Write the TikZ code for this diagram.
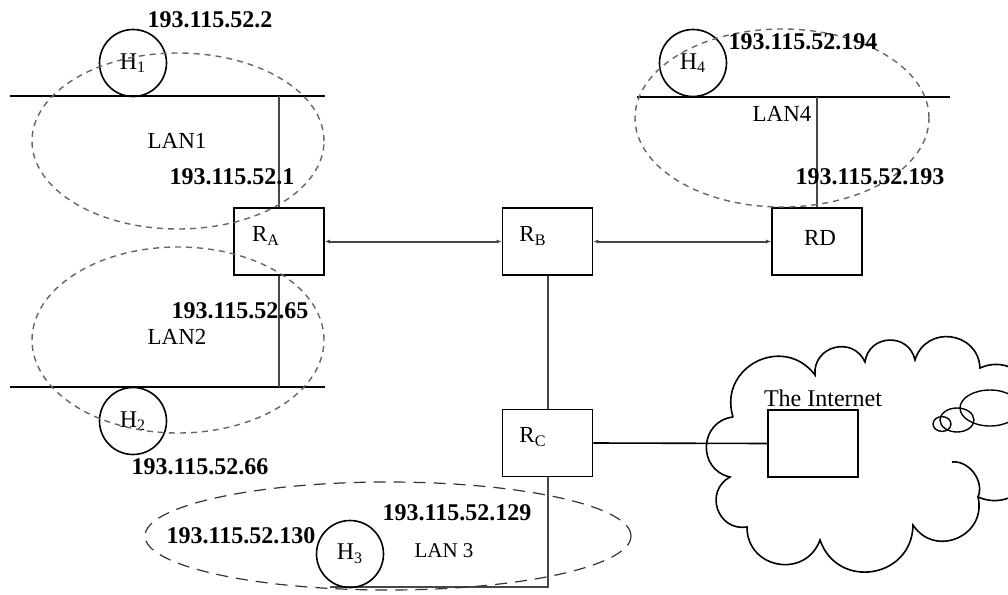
\documentclass[tikz,border=0pt]{standalone}
\usepackage{fontspec}
\setmainfont{Liberation Serif}
\usetikzlibrary{arrows.meta}

\begin{document}
\begin{tikzpicture}[x=0.5pt,y=-0.5pt,>={Latex[length=2.5pt,width=2pt]},
  router/.style={draw,line width=0.8pt,minimum width=45pt,minimum height=33.5pt,inner sep=0pt},
  host/.style={draw,circle,line width=0.8pt,minimum size=33.5pt,inner sep=0pt,font=\fontsize{12}{14}\selectfont},
  addr/.style={font=\bfseries\fontsize{12}{14}\selectfont,inner sep=0pt},
  lbl/.style={font=\fontsize{11.5}{14}\selectfont,inner sep=0pt},
  bus/.style={line width=0.8pt},
  link/.style={line width=1pt,draw=black!72},
  lanring/.style={draw=black!60,line width=0.7pt,dash pattern=on 3pt off 2.5pt},
  lanthree/.style={draw=black!80,line width=0.6pt,dash pattern=on 6pt off 4pt},
  puff/.style={bend left=80,looseness=1.45}]
\clip (0,0) rectangle (1008,595);
\fill[white] (0,0) rectangle (1008,595);

% routers
\node[router] (ra) at (279,241.5) {};
\node[lbl] (ratxt) at (266,236) {R\textsubscript{A}};
\node[router] (rb) at (547.5,241.5) {};
\node[lbl] (rbtxt) at (533,236) {R\textsubscript{B}};
\node[router] (rc) at (547.5,443) {};
\node[lbl] (rctxt) at (533,437) {R\textsubscript{C}};
\node[router] (rd) at (817,241.5) {};
\node[lbl] (rdtxt) at (820,238) {RD};

\draw[link,<->] (ra.east) -- (rb.west);
\draw[link,<->] (rb.east) -- (rd.west);
\draw[link] (rb.south) -- (rc.north);

% LAN 1
\coordinate (bus1w) at (10,96);
\coordinate (bus1e) at (325,96);
\draw[bus] (bus1w) -- (bus1e);
\draw[link] (ra.north) -- (ra.north |- bus1w);
\node[host] (h1) at (133,63) {H\textsubscript{1}};
\draw[lanring] (178,141) ellipse [x radius=73pt,y radius=44pt];
\node[lbl] (lan1) at (177,141) {LAN1};
\node[addr] (a1) at (210,20) {193.115.52.2};
\node[addr] (a2) at (232,177) {193.115.52.1};

% LAN 2
\coordinate (bus2w) at (10,387);
\coordinate (bus2e) at (325,387);
\draw[bus] (bus2w) -- (bus2e);
\draw[link] (ra.south) -- (ra.south |- bus2w);
\node[host] (h2) at (133,421) {H\textsubscript{2}};
\draw[lanring] (178,340) ellipse [x radius=73pt,y radius=46.5pt];
\node[lbl] (lan2) at (177,337) {LAN2};
\node[addr] (a3) at (240,311) {193.115.52.65};
\node[addr] (a4) at (200,467) {193.115.52.66};

% LAN 4
\coordinate (bus4w) at (637,97);
\coordinate (bus4e) at (950,97);
\draw[bus] (bus4w) -- (bus4e);
\draw[link] (rd.north) -- (rd.north |- bus4w);
\node[host] (h4) at (693,63) {H\textsubscript{4}};
\draw[lanring] (782,118) ellipse [x radius=73.5pt,y radius=44.5pt];
\node[lbl] (lan4) at (782,114) {LAN4};
\node[addr] (a5) at (803,42) {193.115.52.194};
\node[addr] (a6) at (870,177) {193.115.52.193};

% LAN 3
\coordinate (bus3w) at (330,587);
\draw[link] (rc.south) |- (bus3w);
\node[host] (h3) at (350,554) {H\textsubscript{3}};
\draw[lanthree] (388,536) ellipse [x radius=121.5pt,y radius=27pt];
\node[lbl,font=\fontsize{10.5}{12}\selectfont] (lan3) at (444,551) {LAN 3};
\node[addr] (a7) at (241,536) {193.115.52.130};
\node[addr] (a8) at (457,513) {193.115.52.129};

% the internet
\draw[line width=0.8pt] (733,417) to[puff] (815,375) to[puff] (865,362)
  to[puff] (915,360) to[puff] (980,368) to[puff] (1022,430)
  to[puff] (978,497) to[puff] (913,525) to[puff] (820,540)
  to[puff] (747,527) to[puff] (730,477) to[puff] (733,417);
\draw[line width=0.8pt] (952,462) to[bend left=60] (978,497);
\draw[line width=0.7pt] (942,424) ellipse [x radius=4.5pt,y radius=3.7pt];
\draw[line width=0.7pt] (957,420) ellipse [x radius=8.5pt,y radius=6pt];
\draw[line width=0.7pt] (990,408) ellipse [x radius=15pt,y radius=9pt];
\node[draw,line width=0.8pt,minimum width=45pt,minimum height=33.5pt,inner sep=0pt] (net) at (813,443.5) {};
\node[lbl,font=\fontsize{12}{14}\selectfont] (nettxt) at (823,398) {The Internet};
\draw[bus] (rc.east) -- (net.west);
\end{tikzpicture}
\end{document}
